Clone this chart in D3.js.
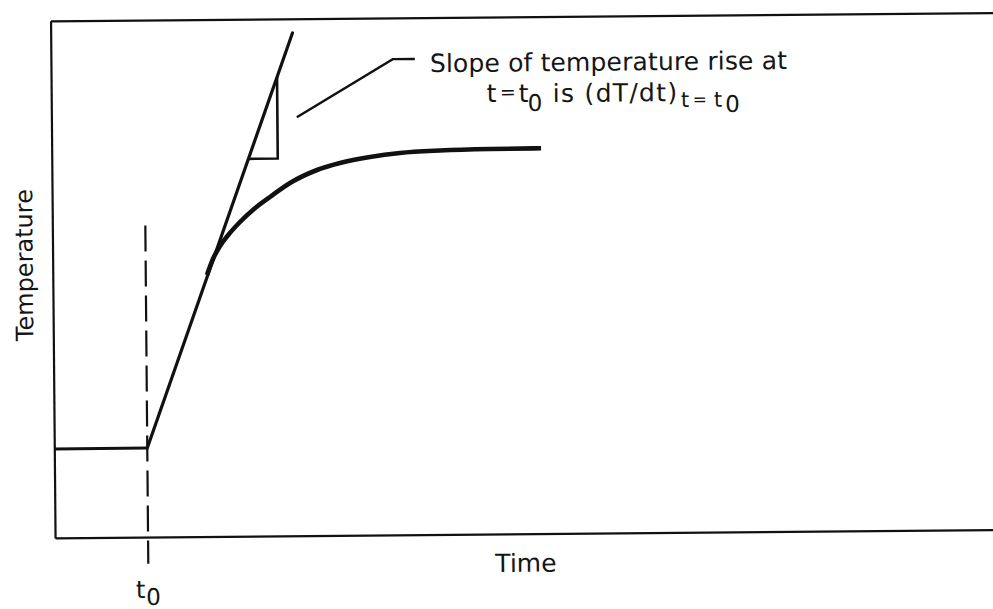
<!DOCTYPE html>
<html>
<head>
<meta charset="utf-8">
<script src="https://cdn.jsdelivr.net/npm/d3@7"></script>
<style>
  html, body { margin: 0; padding: 0; background: #fff; }
  svg { display: block; }
  text { font-family: "DejaVu Sans", sans-serif; fill: #151515; }
</style>
</head>
<body>
<svg id="chart" width="993" height="609"></svg>
<script>
// Baseline temperature before heating starts (time 0 .. t0)
const baseTime = [0, 1];
const baseTemp = [1, 1];

// Tangent to the rise at t = t0
const tangentTime = [1, 2.60];
const tangentTemp = [1, 5.65];

// Temperature response curve after the initial linear rise
const curveTime = [1.658, 1.724, 1.801, 1.899, 2.018, 2.170, 2.343, 2.559, 2.851, 3.099, 3.422, 3.745, 4.175, 4.713, 5.262];
const curveTemp = [2.939, 3.118, 3.264, 3.397, 3.531, 3.676, 3.809, 3.964, 4.108, 4.184, 4.249, 4.291, 4.315, 4.327, 4.330];

// Slope triangle drawn against the tangent
const triangleTime = [2.12, 2.43, 2.43];
const triangleTemp = [4.24, 4.24, 5.16];

// Leader line from the triangle to the note
const leaderTime = [2.639, 3.676, 3.913];
const leaderTemp = [4.703, 5.346, 5.345];

// Vertical marker at t0
const markerTime = [1, 1];
const markerTemp = [3.50, -0.30];

const timeDomain = [0, 10.2];
const tempDomain = [0, 5.81];

const svg = d3.select("#chart");
const g = svg.append("g").attr("transform", "rotate(-0.5, 500, 300)");

const x = d3.scaleLinear().domain(timeDomain).range([53, 53 + 10.2 * 93]);
const y = d3.scaleLinear().domain(tempDomain).range([534, 534 - 5.81 * 89]);

// Frame: bottom, left and top axes with no ticks
function frameAxis(axis, transform) {
  const a = g.append("g").attr("transform", transform)
    .call(axis.tickValues([]).tickSizeOuter(0));
  a.select(".domain").attr("stroke", "#111").attr("stroke-width", 2.2);
}
frameAxis(d3.axisBottom(x), `translate(0,${y(0)})`);
frameAxis(d3.axisTop(x), `translate(0,${y(tempDomain[1])})`);
frameAxis(d3.axisLeft(y), `translate(${x(0)},0)`);

const zip = (a, b) => a.map((v, i) => [v, b[i]]);
const line = d3.line().x(d => x(d[0])).y(d => y(d[1]));

// t0 marker (dashed)
g.append("path")
  .attr("d", line(zip(markerTime, markerTemp)))
  .attr("fill", "none").attr("stroke", "#111").attr("stroke-width", 2.2)
  .attr("stroke-dasharray", "26 9");

// Baseline and tangent
g.append("path")
  .attr("d", line(zip(baseTime, baseTemp)))
  .attr("fill", "none").attr("stroke", "#111").attr("stroke-width", 3);
g.append("path")
  .attr("d", line(zip(tangentTime, tangentTemp)))
  .attr("fill", "none").attr("stroke", "#111").attr("stroke-width", 3.2)
  .attr("stroke-linecap", "round");

// Response curve
g.append("path")
  .attr("d", d3.line().x(d => x(d[0])).y(d => y(d[1])).curve(d3.curveMonotoneX)(zip(curveTime, curveTemp)))
  .attr("fill", "none").attr("stroke", "#111").attr("stroke-width", 4.6)
  .attr("stroke-linecap", "butt");

// Slope triangle
g.append("path")
  .attr("d", line(zip(triangleTime, triangleTemp)))
  .attr("fill", "none").attr("stroke", "#111").attr("stroke-width", 2.6)
  .attr("stroke-linejoin", "miter");

// Leader line
g.append("path")
  .attr("d", line(zip(leaderTime, leaderTemp)))
  .attr("fill", "none").attr("stroke", "#111").attr("stroke-width", 2.4);

// Note text, first line
g.append("text").attr("x", 432).attr("y", 71.5)
  .attr("font-size", 25)
  .attr("textLength", 357).attr("lengthAdjust", "spacing")
  .text("Slope of temperature rise at");

// Note text, second line: pieces with subscripts
const note2 = [
  { s: "t", x: 488.5, y: 101.9, size: 25 },
  { s: "=", x: 501.8, y: 98.7, size: 19 },
  { s: "t", x: 520.5, y: 102.2, size: 25 },
  { s: "0", x: 529.4, y: 111.3, size: 23 },
  { s: "is (dT/dt)", x: 554.5, y: 102.5, size: 25, ls: 1.3 },
  { s: "t", x: 682.7, y: 108.6, size: 21 },
  { s: "=", x: 694.5, y: 107, size: 17 },
  { s: "t", x: 715.7, y: 108.7, size: 21 },
  { s: "0", x: 726.9, y: 114, size: 23 }
];
g.append("text").selectAll("tspan").data(note2).join("tspan")
  .attr("x", d => d.x).attr("y", d => d.y)
  .attr("font-size", d => d.size)
  .attr("letter-spacing", d => d.ls || 0)
  .text(d => d.s);

// Axis labels
g.append("text").attr("x", 493).attr("y", 572)
  .attr("font-size", 25).text("Time");

g.append("text")
  .attr("transform", "translate(33,261) rotate(-90)")
  .attr("text-anchor", "middle")
  .attr("font-size", 24)
  .text("Temperature");

// t0 label under the marker
const t0Label = [
  { s: "t", x: x(1) - 12.6, y: 594.8, size: 24 },
  { s: "0", x: x(1) - 2.4, y: 601.9, size: 23 }
];
g.append("text").selectAll("tspan").data(t0Label).join("tspan")
  .attr("x", d => d.x).attr("y", d => d.y)
  .attr("font-size", d => d.size)
  .text(d => d.s);
</script>
</body>
</html>
